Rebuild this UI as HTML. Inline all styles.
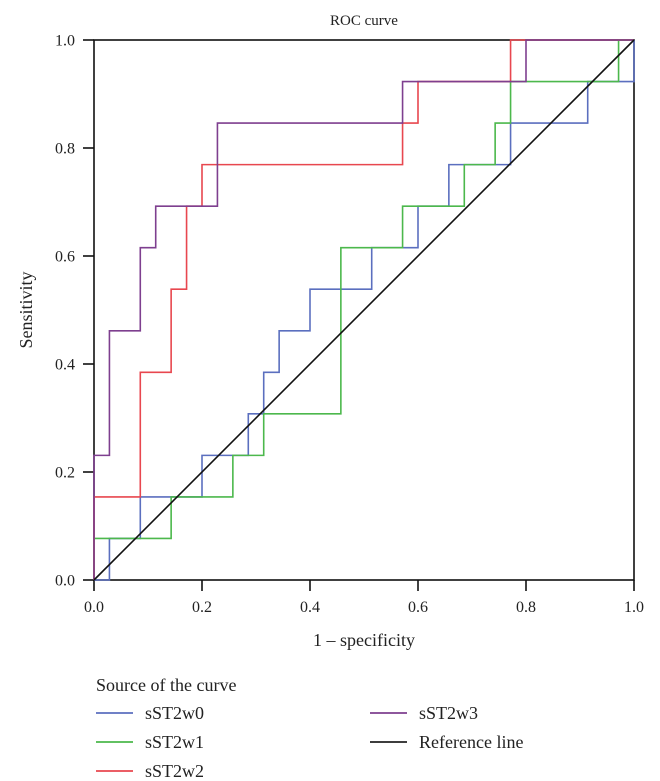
<!DOCTYPE html>
<html><head><meta charset="utf-8"><style>
html,body{margin:0;padding:0;background:#fff}
svg{display:block}
text{font-family:"Liberation Serif",serif;fill:#222}
</style></head><body>
<svg id="chart" width="660" height="781" viewBox="0 0 660 781">
<text x="364" y="25" font-size="15" text-anchor="middle">ROC curve</text>
<g id="axes"></g>
<g id="series"></g>
<text x="364" y="646" font-size="18" text-anchor="middle">1 – specificity</text>
<text transform="translate(32,310) rotate(-90)" font-size="18" text-anchor="middle">Sensitivity</text>
<g id="legend">
<text x="96" y="691" font-size="18">Source of the curve</text>
</g>
</svg>
<script>
const tickValues = [0, 0.2, 0.4, 0.6, 0.8, 1.0];
const tickLabels = ["0.0", "0.2", "0.4", "0.6", "0.8", "1.0"];
const seriesNames = ["sST2w0", "sST2w1", "sST2w2", "sST2w3"];
const seriesColors = ["#5b6fbf", "#4cb84c", "#e8474f", "#7e3f8f"];
const nNeg = 35, nPos = 13;
// false-positive counts (of 35) and true-positive counts (of 13)
const w0Fp = [0,1,1,3,3,7,7,10,10,11,11,12,12,14,14,18,18,21,21,23,23,27,27,32,32,35,35];
const w0Tp = [0,0,1,1,2,2,3,3,4,4,5,5,6,6,7,7,8,8,9,9,10,10,11,11,12,12,13];
const w1Fp = [0,0,5,5,9,9,11,11,16,16,20,20,24,24,26,26,27,27,34,34,35];
const w1Tp = [0,1,1,2,2,3,3,4,4,8,8,9,9,10,10,11,11,12,12,13,13];
const w2Fp = [0,0,3,3,5,5,6,6,7,7,20,20,21,21,27,27,35];
const w2Tp = [0,2,2,5,5,7,7,9,9,10,10,11,11,12,12,13,13];
const w3Fp = [0,0,1,1,3,3,4,4,8,8,20,20,28,28,35];
const w3Tp = [0,3,3,6,6,8,8,9,9,11,11,12,12,13,13];

const X0 = 94, X1 = 634, Y0 = 580, Y1 = 40;
const sx = v => X0 + v * (X1 - X0);
const sy = v => Y0 - v * (Y0 - Y1);
const NS = "http://www.w3.org/2000/svg";
function mk(tag, attrs, parent){const e=document.createElementNS(NS,tag);for(const k in attrs)e.setAttribute(k,attrs[k]);parent.appendChild(e);return e;}

const axes = document.getElementById('axes');
tickValues.forEach((v,i)=>{
  const ty = mk('line',{x1:83,x2:X0,y1:sy(v),y2:sy(v),stroke:'#111','stroke-width':1.6},axes);
  
  
  const ly = mk('text',{x:75,y:sy(v)+5.5,'font-size':16,'text-anchor':'end'},axes);
  ly.textContent = tickLabels[i];
  
  
  const tx = mk('line',{x1:sx(v),x2:sx(v),y1:Y0,y2:591,stroke:'#111','stroke-width':1.6},axes);
  
  
  const lx = mk('text',{x:sx(v),y:612,'font-size':16,'text-anchor':'middle'},axes);
  lx.textContent = tickLabels[i];
  
  
});
const frame = mk('rect',{x:X0,y:Y1,width:X1-X0,height:Y0-Y1,fill:'none',stroke:'#111','stroke-width':1.6},axes);



const series = document.getElementById('series');
const fps=[w0Fp,w1Fp,w2Fp,w3Fp], tps=[w0Tp,w1Tp,w2Tp,w3Tp];
fps.forEach((fp,s)=>{
  const pts = fp.map((f,i)=>sx(f/nNeg).toFixed(2)+','+sy(tps[s][i]/nPos).toFixed(2)).join(' ');
  const pl = mk('polyline',{points:pts,fill:'none',stroke:seriesColors[s],'stroke-width':1.6},series);
  
  
});
const ref = mk('line',{x1:sx(0),y1:sy(0),x2:sx(1),y2:sy(1),stroke:'#111','stroke-width':1.6},series);



const legend = document.getElementById('legend');
const legItems = [
  {n:'sST2w0',c:seriesColors[0],x:96,y:713},
  {n:'sST2w1',c:seriesColors[1],x:96,y:742},
  {n:'sST2w2',c:seriesColors[2],x:96,y:771},
  {n:'sST2w3',c:seriesColors[3],x:370,y:713},
  {n:'Reference line',c:'#222',x:370,y:742}
];
legItems.forEach(it=>{
  const g = mk('g',{},legend);
  
  
  mk('line',{x1:it.x,x2:it.x+37,y1:it.y,y2:it.y,stroke:it.c,'stroke-width':1.8},g);
  const t = mk('text',{x:it.x+49,y:it.y+6,'font-size':18},g);
  t.textContent = it.n;
});
</script>
</body></html>
